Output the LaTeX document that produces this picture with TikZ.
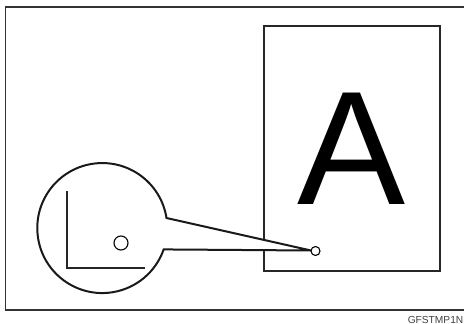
\documentclass[tikz,border=0pt]{standalone}
\usepackage{fontspec}
\setmainfont{Liberation Sans}
\begin{document}
\begin{tikzpicture}[x=1pt,y=-1pt,
  frame/.style={draw=black!80,line width=1.3pt},
  page/.style={draw=black!85,line width=2pt},
  lens/.style={draw=black!90,line width=2pt,fill=white,line join=miter},
  thin/.style={draw=black!85,line width=1.1pt},
  spot/.style={circle,draw=black,line width=1.1pt,fill=white,inner sep=0pt}]
\useasboundingbox (0,0) rectangle (464,324);
\draw[frame] (5.5,7) rectangle (475,310);
\node[page,minimum width=176pt,minimum height=245pt,inner sep=0pt] (pg) at (352,148.5) {};
\node[anchor=base,inner sep=0pt,font=\fontsize{162}{162}\selectfont] (A) at (352,204) {A};
\coordinate (up) at (166.5,218);
\coordinate (lo) at (164,249.5);
\coordinate (tip) at (311,250.5);
\draw[lens] (up) arc[start angle=-8.9, end angle=-340.8, radius=65] -- (tip) -- cycle;
\node[spot,minimum size=9pt] (dot) at (315.5,251) {};
\draw[thin] (67,191) coordinate (la) -- (67,268) coordinate (lc) -- (145,268) coordinate (lb);
\node[spot,minimum size=14pt] (idot) at (121,243) {};
\node[anchor=base east,inner sep=0pt,text=black!75,font=\fontsize{10.2}{10.2}\selectfont] (cap) at (463.5,323) {GFSTMP1N};
\end{tikzpicture}
\end{document}
